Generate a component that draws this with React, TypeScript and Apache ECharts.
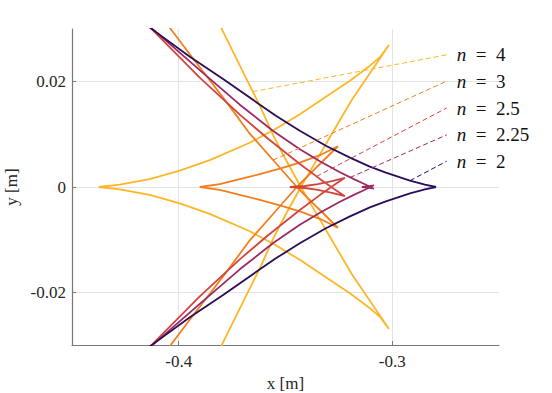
import React, { useEffect, useRef } from 'react';
import * as echarts from 'echarts';

// ---- data (metres) ----
const xTicks = [-0.4, -0.3];
const yTicks = [-0.02, 0, 0.02];
const nLabels = ['4', '3', '2.5', '2.25', '2'];

// n = 4
const n4X = [-0.38313, -0.37984, -0.36813, -0.36203, -0.35594, -0.35125, -0.34281, -0.33484, -0.32688, -0.31891, -0.31047, -0.30156,
  -0.30578, -0.31047, -0.31984, -0.33109, -0.34328, -0.35453, -0.36672, -0.38547, -0.39953, -0.41359, -0.42766, -0.4375,
  -0.42766, -0.41359, -0.39953, -0.38547, -0.36672, -0.35453, -0.34328, -0.33109, -0.31984, -0.31047, -0.30578, -0.30156,
  -0.31047, -0.31891, -0.32688, -0.33484, -0.34281, -0.35125, -0.35594, -0.36203, -0.36813, -0.37984, -0.38313];
const n4Y = [0.03273, 0.02999, 0.02038, 0.01544, 0.01001, 0.00621, 0, -0.00553, -0.01105, -0.01658, -0.0216, -0.02697,
  -0.02465, -0.02304, -0.02019, -0.01715, -0.01383, -0.01107, -0.00841, -0.00509, -0.0031, -0.00148, -0.00044, 0,
  0.00044, 0.00148, 0.0031, 0.00509, 0.00841, 0.01107, 0.01383, 0.01715, 0.02019, 0.02304, 0.02465, 0.02697,
  0.0216, 0.01658, 0.01105, 0.00553, 0, -0.00621, -0.01001, -0.01544, -0.02038, -0.02999, -0.03273];

// n = 3
const n3X = [-0.40891, -0.40375, -0.39484, -0.38547, -0.37797, -0.36672, -0.355, -0.34469, -0.33484, -0.32547,
  -0.33391, -0.34328, -0.35266, -0.36203, -0.37141, -0.38078, -0.39016,
  -0.38078, -0.37141, -0.36203, -0.35266, -0.34328, -0.33391, -0.32547,
  -0.33484, -0.34469, -0.355, -0.36672, -0.37797, -0.38547, -0.39484, -0.40375, -0.40891];
const n3Y = [0.03273, 0.02999, 0.02522, 0.02028, 0.0163, 0.01012, 0.00475, 0, -0.00399, -0.00774,
  -0.00604, -0.00462, -0.00348, -0.00243, -0.00148, -0.00053, 0,
  0.00053, 0.00148, 0.00243, 0.00348, 0.00462, 0.00604, 0.00774,
  0.00399, 0, -0.00475, -0.01012, -0.0163, -0.02028, -0.02522, -0.02999, -0.03273];

// n = 2.5
const n25X = [-0.41922, -0.41266, -0.39016, -0.37141, -0.35875, -0.34328, -0.33391, -0.32688, -0.32219,
  -0.32828, -0.33484, -0.34094, -0.34797,
  -0.34094, -0.33484, -0.32828, -0.32219,
  -0.32688, -0.33391, -0.34328, -0.35875, -0.37141, -0.39016, -0.41266, -0.41922];
const n25Y = [0.03286, 0.02999, 0.02076, 0.01373, 0.00936, 0.00437, 0.00154, -0.00046, -0.00175,
  -0.0011, -0.00053, -0.00019, 0,
  0.00019, 0.00053, 0.0011, 0.00175,
  0.00046, -0.00154, -0.00437, -0.00936, -0.01373, -0.02076, -0.02999, -0.03286];

// n = 2.25
const n225X = [-0.41828, -0.41219, -0.39016, -0.37141, -0.35594, -0.34328, -0.33391, -0.32453, -0.3175, -0.31281, -0.30859,
  -0.31141, -0.31422, -0.31141, -0.30859,
  -0.31281, -0.3175, -0.32453, -0.33391, -0.34328, -0.35594, -0.37141, -0.39016, -0.41219, -0.41828];
const n225Y = [0.03221, 0.02999, 0.02218, 0.01563, 0.01069, 0.00718, 0.0049, 0.00281, 0.00139, 0.00053, -0.00032,
  -0.00012, 0, 0.00012, 0.00032,
  -0.00053, -0.00139, -0.00281, -0.0049, -0.00718, -0.01069, -0.01563, -0.02218, -0.02999, -0.03221];

// n = 2
const n2X = [-0.4183, -0.4122, -0.3948, -0.3794, -0.362, -0.3545, -0.3433, -0.3311, -0.3198, -0.3105, -0.303, -0.2917, -0.2847, -0.2795,
  -0.2847, -0.2917, -0.303, -0.3105, -0.3198, -0.3311, -0.3433, -0.3545, -0.362, -0.3794, -0.3948, -0.4122, -0.4183];
const n2Y = [0.03166, 0.02988, 0.02475, 0.02057, 0.01563, 0.01354, 0.01069, 0.00784, 0.00557, 0.00386, 0.00272, 0.0012, 0.00044, 0,
  -0.00044, -0.0012, -0.00272, -0.00386, -0.00557, -0.00784, -0.01069, -0.01354, -0.01563, -0.02057, -0.02475, -0.02988, -0.03166];

// annotation leaders (n = 4, 3, 2.5, 2.25, 2)
const leadStartX = [-0.3653, -0.3558, -0.3355, -0.3198, -0.2917];
const leadStartY = [0.0181, 0.0051, 0.002, 0.0018, 0.0012];
const leadEndX = [-0.2745, -0.2745, -0.2745, -0.2745, -0.2745];
const leadEndY = [0.0251, 0.0201, 0.015, 0.0099, 0.0049];

const COLORS = ['#fbb726', '#f57e1c', '#d2453f', '#9b2964', '#2a0c58'];
const FONT = "'Liberation Serif', 'DejaVu Serif', serif";

const zip = (xs: number[], ys: number[]) => xs.map((x, i) => [x, ys[i]]);

export default function App() {
  const ref = useRef<HTMLDivElement>(null);
  useEffect(() => {
    document.body.style.margin = '0';
    const chart = echarts.init(ref.current!, null, { renderer: 'svg' });
    const curves = [zip(n4X, n4Y), zip(n3X, n3Y), zip(n25X, n25Y), zip(n225X, n225Y), zip(n2X, n2Y)];
    const curveSeries = curves.map((d, i) => ({
      type: 'line',
      data: d,
      showSymbol: false,
      symbol: 'none',
      clip: true,
      lineStyle: { color: COLORS[i], width: 1.8 },
      z: 2 + i,
    }));
    const leadSeries = nLabels.map((lab, i) => ({
      type: 'line',
      data: [[leadStartX[i], leadStartY[i]], [leadEndX[i], leadEndY[i]]],
      showSymbol: false,
      symbol: 'none',
      clip: false,
      lineStyle: { color: COLORS[i], width: 1, type: [5, 3] },
      z: 10,
      endLabel: {
        show: true,
        distance: 10,
        color: '#111',
        fontFamily: FONT,
        fontSize: 19,
        formatter: () => '{i|n}{r|\u2002=\u2002' + lab + '}',
        rich: {
          i: { fontStyle: 'italic', fontFamily: FONT, fontSize: 19, color: '#111' },
          r: { fontFamily: FONT, fontSize: 19, color: '#111' },
        },
      },
    }));
    const axisCommon = {
      type: 'value',
      nameLocation: 'middle',
      nameTextStyle: { fontFamily: FONT, fontSize: 17, color: '#262626' },
      axisLine: { show: true, onZero: false, lineStyle: { color: '#777', width: 1.2 } },
      splitLine: { show: true, lineStyle: { color: '#e3e3e3', width: 1 } },
    };
    chart.setOption({
      animation: false,
      grid: { left: 72, right: 53, top: 29, bottom: 48, containLabel: false, outerBoundsMode: 'none' },
      xAxis: {
        ...axisCommon,
        min: -0.45,
        max: -0.25,
        name: 'x [m]',
        nameGap: 25,
        axisTick: { show: true, inside: true, length: 4, customValues: xTicks, lineStyle: { color: '#777' } },
        axisLabel: { customValues: xTicks, formatter: (v: number) => v.toFixed(1), fontFamily: FONT, fontSize: 17, color: '#262626', margin: 8 },
      },
      yAxis: {
        ...axisCommon,
        min: -0.03,
        max: 0.03,
        name: 'y [m]',
        nameGap: 46,
        axisTick: { show: true, inside: true, length: 4, customValues: yTicks, lineStyle: { color: '#777' } },
        axisLabel: { customValues: yTicks, formatter: (v: number) => (Math.abs(v) < 1e-9 ? '0' : v.toFixed(2)), fontFamily: FONT, fontSize: 17, color: '#262626', margin: 6 },
      },
      series: [...curveSeries, ...leadSeries],
    });
    return () => chart.dispose();
  }, []);
  return <div ref={ref} style={{ position: 'absolute', left: 0, top: 0, width: 552, height: 393 }} />;
}
